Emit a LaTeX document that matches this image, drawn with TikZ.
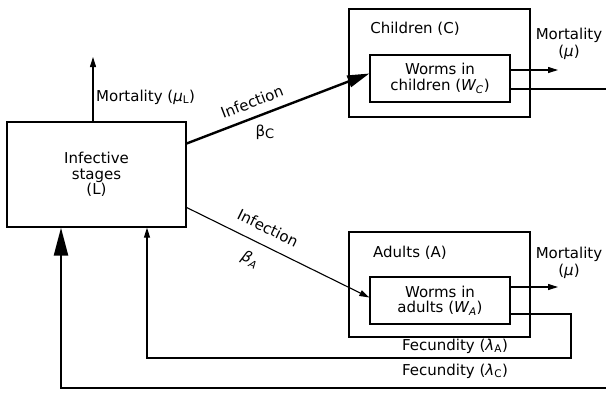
\documentclass[tikz,border=0pt]{standalone}
\usepackage{fontspec}
\setmainfont{DejaVu Sans}
\usetikzlibrary{arrows.meta}
\begin{document}
\begin{tikzpicture}[x=1pt,y=-1pt,
  font=\fontsize{15}{15.5}\selectfont,
  box/.style={draw, line width=1.3pt, inner sep=0pt, align=center},
  thinln/.style={line width=1.1pt},
  thickln/.style={line width=2.4pt},
  bigtip/.style={-{Triangle[length=28pt,width=14pt]}},
  midtip/.style={-{Triangle[length=22pt,width=12pt]}},
  smalltip/.style={-{Triangle[length=10pt,width=6pt]}},
  lbl/.style={inner sep=0pt, align=center}]
\useasboundingbox (0,0) rectangle (606,392);
% boxes
\node[box, minimum width=179pt, minimum height=105pt] (L) at (96.5,174.5) {Infective\\stages\\(L)};
\node[box, minimum width=181pt, minimum height=108pt] (C) at (439.5,63) {};
\node[box, minimum width=140pt, minimum height=47pt] (WC) at (440,78.5) {Worms in\\children (\textit{W\textsubscript{C}})};
\node[box, minimum width=181pt, minimum height=105pt] (A) at (439.5,284.5) {};
\node[box, minimum width=140pt, minimum height=47pt] (WA) at (440,300.5) {Worms in\\adults (\textit{W\textsubscript{A}})};
% labels
\node[lbl] (tC) at (415,29) {Children (C)};
\node[lbl] (tA) at (410,253) {Adults (A)};
\node[lbl, anchor=west] (tmL) at (96,97) {Mortality (\textit{μ}\textsubscript{L})};
\node[lbl, rotate=21] (tiC) at (252,102) {Infection};
\node[lbl] (tbC) at (265,132) {β\raisebox{-2.5pt}{\fontsize{13}{13}\selectfont C}};
\node[lbl, rotate=-26] (tiA) at (268,228) {Infection};
\node[lbl, rotate=-26] (tbA) at (250,260) {\textit{β\textsubscript{A}}};
\node[lbl, font=\fontsize{15}{17.5}\selectfont] (tmC) at (569,44) {Mortality\\(\textit{μ})};
\node[lbl, font=\fontsize{15}{17.5}\selectfont] (tmA) at (569,263) {Mortality\\(\textit{μ})};
\node[lbl] (tfA) at (455,346) {Fecundity (\textit{λ}\textsubscript{A})};
\node[lbl] (tfC) at (455,371) {Fecundity (\textit{λ}\textsubscript{C})};
% coordinates
\coordinate (mL) at (93,57);
\coordinate (mC) at (558,70);
\coordinate (eC) at (606,89);
\coordinate (mA) at (558,287);
\coordinate (fA) at (571,358);
\coordinate (fC) at (606,388);
% connectors
\draw[thinln, smalltip] (L.north -| mL) -- (mL);
\draw[thickln, midtip] ([yshift=31pt]L.east) -- ([yshift=5pt]WC.west);
\draw[thinln, smalltip] ([yshift=-33pt]L.east) -- ([yshift=3pt]WA.west);
\draw[thinln, smalltip] (WC.east |- mC) -- (mC);
\draw[thickln] (WC.east |- eC) -- (eC);
\draw[thinln, smalltip] (WA.east |- mA) -- (mA);
\draw[thinln, smalltip] ([yshift=-13.5pt]WA.east) -| (fA) -- (fA -| 147,0) -- (L.south -| 147,0);
\draw[thickln, bigtip] (fC) -- (fC -| 61,0) -- (L.south -| 61,0);
\end{tikzpicture}
\end{document}
